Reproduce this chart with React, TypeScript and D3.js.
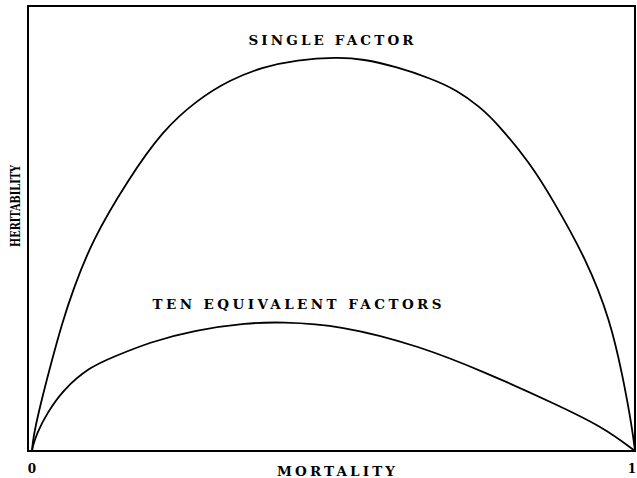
import React from "react";
import * as d3 from "d3";

// values: mortality (0..1) vs heritability (0..1 of frame height)
const singleMortality = [0, 0.002, 0.013, 0.03, 0.05, 0.068, 0.1, 0.159, 0.217, 0.274, 0.328, 0.383, 0.439, 0.506, 0.549, 0.605, 0.66, 0.705, 0.743, 0.771, 0.826, 0.864, 0.92, 0.959, 0.98, 0.995, 1];
const singleHeritability = [0, 0.031, 0.099, 0.189, 0.288, 0.362, 0.474, 0.609, 0.721, 0.789, 0.834, 0.863, 0.879, 0.885, 0.881, 0.863, 0.838, 0.811, 0.773, 0.737, 0.647, 0.564, 0.429, 0.294, 0.166, 0.054, 0];

const tenMortality = [0, 0.001, 0.008, 0.025, 0.051, 0.096, 0.134, 0.196, 0.27, 0.358, 0.411, 0.511, 0.643, 0.755, 0.864, 0.947, 1];
const tenHeritability = [0, 0.009, 0.04, 0.085, 0.137, 0.189, 0.211, 0.245, 0.272, 0.288, 0.29, 0.283, 0.236, 0.175, 0.108, 0.054, 0];

const xTickLabels = ["0", "1"];
const seriesLabels = ["SINGLE FACTOR", "TEN EQUIVALENT FACTORS"];

const W = 637;
const H = 478;

const App = () => {
    const margin = { top: 6, right: 2, bottom: 27, left: 32 };

    const x = d3.scaleLinear().domain([0, 1]).range([margin.left, W - margin.right]);
    const y = d3.scaleLinear().domain([0, 1]).range([H - margin.bottom, margin.top]);

    // hand drawn curves, so smooth through the read-off points
    const line = d3
        .line<[number, number]>()
        .x((d) => x(d[0]))
        .y((d) => y(d[1]))
        .curve(d3.curveBasis);

    const single = singleMortality.map((m, i) => [m, singleHeritability[i]] as [number, number]);
    const ten = tenMortality.map((m, i) => [m, tenHeritability[i]] as [number, number]);

    const font = "'DejaVu Serif', 'Liberation Serif', serif";

    return (
        <svg
            width={W}
            height={H}
            style={{ position: "absolute", left: 0, top: 0, background: "#fff" }}
        >
            {/* frame */}
            <path
                d={`M${x(1)},${y(1)} L${28},${y(1)} L${28},${y(0)} L${x(1)},${y(0)} Z`}
                fill="none"
                stroke="#000"
                strokeWidth={2}
            />

            <path d={line(single) || ""} fill="none" stroke="#000" strokeWidth={1.8} />
            <path d={line(ten) || ""} fill="none" stroke="#000" strokeWidth={1.8} />

            {/* series labels */}
            <text
                x={331}
                y={45}
                textAnchor="middle"
                fontFamily={font}
                fontWeight="bold"
                fontSize={13.5}
                textLength={165}
                lengthAdjust="spacing"
            >
                {seriesLabels[0]}
            </text>
            <text
                x={297}
                y={309}
                textAnchor="middle"
                fontFamily={font}
                fontWeight="bold"
                fontSize={13.5}
                textLength={289}
                lengthAdjust="spacing"
            >
                {seriesLabels[1]}
            </text>

            {/* axis labels */}
            <text
                x={336}
                y={476}
                textAnchor="middle"
                fontFamily={font}
                fontWeight="bold"
                fontSize={13.5}
                textLength={118}
                lengthAdjust="spacing"
            >
                MORTALITY
            </text>
            <text
                transform="translate(20,206) rotate(-90)"
                textAnchor="middle"
                fontFamily={font}
                fontWeight="bold"
                fontSize={13}
                textLength={82}
                lengthAdjust="spacingAndGlyphs"
            >
                HERITABILITY
            </text>

            {xTickLabels.map((t, i) => (
                <text
                    key={t}
                    x={i === 0 ? x(0) : x(1) - 3}
                    y={473}
                    textAnchor="middle"
                    fontFamily={font}
                    fontWeight="bold"
                    fontSize={12}
                >
                    {t}
                </text>
            ))}
        </svg>
    );
};

export default App;
